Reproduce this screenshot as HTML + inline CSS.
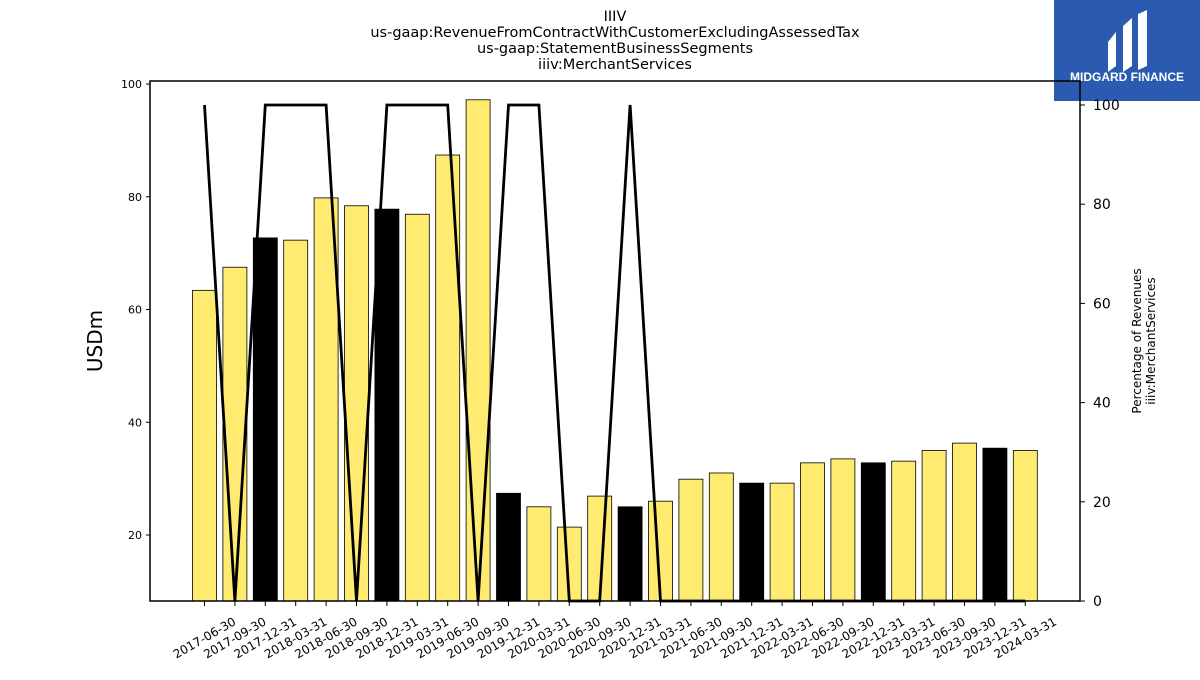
<!DOCTYPE html>
<html><head><meta charset="utf-8"><style>
body{margin:0;background:#fff;width:1200px;height:675px;overflow:hidden;font-family:"Liberation Sans","DejaVu Sans",sans-serif}
</style></head><body>
<svg id="c" width="1200" height="675" xmlns="http://www.w3.org/2000/svg">
<g font-family="DejaVu Sans, Liberation Sans, sans-serif" font-size="14.5" text-anchor="middle">
<text x="615" y="21">IIIV</text>
<text x="615" y="37">us-gaap:RevenueFromContractWithCustomerExcludingAssessedTax</text>
<text x="615" y="53">us-gaap:StatementBusinessSegments</text>
<text x="615" y="69">iiiv:MerchantServices</text>
</g>
<g>
<rect x="1054" y="0" width="146" height="101" fill="#2a5bb0"/>
<path d="M1108 42 L1116 32 L1116 66 L1108 72 Z M1123 26 L1132 18 L1132 66 L1123 72 Z M1138 14 L1147 10 L1147 66 L1138 70 Z" fill="#fff"/>
<text x="1127" y="81" fill="#fff" font-size="12" font-weight="bold" text-anchor="middle">MIDGARD FINANCE</text>
</g>
<g id="plot"></g>
</svg>
<script>
const categories=["2017-06-30","2017-09-30","2017-12-31","2018-03-31","2018-06-30","2018-09-30","2018-12-31","2019-03-31","2019-06-30","2019-09-30","2019-12-31","2020-03-31","2020-06-30","2020-09-30","2020-12-31","2021-03-31","2021-06-30","2021-09-30","2021-12-31","2022-03-31","2022-06-30","2022-09-30","2022-12-31","2023-03-31","2023-06-30","2023-09-30","2023-12-31","2024-03-31"];
const revenue=[63.4,67.5,72.7,72.3,79.8,78.4,77.8,76.9,87.4,97.2,27.4,25.0,21.4,26.9,25.0,26.0,29.9,31.0,29.2,29.2,32.8,33.5,32.8,33.1,35.0,36.3,35.4,35.0];
const pct=[100,0,100,100,100,0,100,100,100,0,100,100,0,0,100,0,0,0,0,0,0,0,0,0,0,0,0,0];
const leftTicks=[20,40,60,80,100];
const rightTicks=[0,20,40,60,80,100];
const L=150,R=1080,T=81,B=601;
const yL=v=>647.75-v*5.6375;
const yR=v=>601-v*4.96;
const xC=i=>204.5+i*30.4;
const NS="http://www.w3.org/2000/svg";
const g=document.getElementById('plot');
function mk(t,a,p){const e=document.createElementNS(NS,t);for(const k in a)e.setAttribute(k,a[k]);(p||g).appendChild(e);return e;}
revenue.forEach((v,i)=>{
 const e=mk('rect',{x:xC(i)-12,y:yL(v),width:24,height:B-yL(v),fill:(i%4==2)?'#000':'#ffeb70',stroke:'#000','stroke-width':0.8});
 
 
});
const line=mk('polyline',{points:pct.map((v,i)=>xC(i)+','+yR(v)).join(' '),fill:'none',stroke:'#000','stroke-width':2.8,'stroke-linejoin':'miter'});


const fr=mk('rect',{x:L,y:T,width:R-L,height:B-T,fill:'none',stroke:'#000','stroke-width':1.5});


leftTicks.forEach(v=>{
 mk('line',{x1:L-4,x2:L,y1:yL(v),y2:yL(v),stroke:'#000'});
 const t=mk('text',{x:L-8,y:yL(v)+4,'font-size':11,'text-anchor':'end','font-family':'DejaVu Sans, sans-serif'});t.textContent=v;
 
 
});
rightTicks.forEach(v=>{
 mk('line',{x1:R,x2:R+5,y1:yR(v),y2:yR(v),stroke:'#000'});
 const t=mk('text',{x:R+13,y:yR(v)+5,'font-size':14,'font-family':'DejaVu Sans, sans-serif'});t.textContent=v;
 
 
});
categories.forEach((c,i)=>{
 mk('line',{x1:xC(i),x2:xC(i),y1:B,y2:B+5,stroke:'#000'});
 const cx=xC(i), cy=B+37;
 const t=mk('text',{x:cx,y:cy+4,'font-size':12,'text-anchor':'middle','font-family':'DejaVu Sans, sans-serif',transform:`rotate(-30 ${cx} ${cy})`});t.textContent=c;
 
 
});
const yt=mk('text',{x:102,y:341,'font-size':20,'text-anchor':'middle','font-family':'DejaVu Sans, sans-serif',transform:'rotate(-90 102 341)'});yt.textContent='USDm';


const rt=mk('text',{x:1141,y:341,'font-size':12,'text-anchor':'middle','font-family':'DejaVu Sans, sans-serif',transform:'rotate(-90 1141 341)'});


const s1=mk('tspan',{x:1141,dy:0},rt);s1.textContent='Percentage of Revenues';
const s2=mk('tspan',{x:1141,dy:14},rt);s2.textContent='iiiv:MerchantServices';
</script>
</body></html>
